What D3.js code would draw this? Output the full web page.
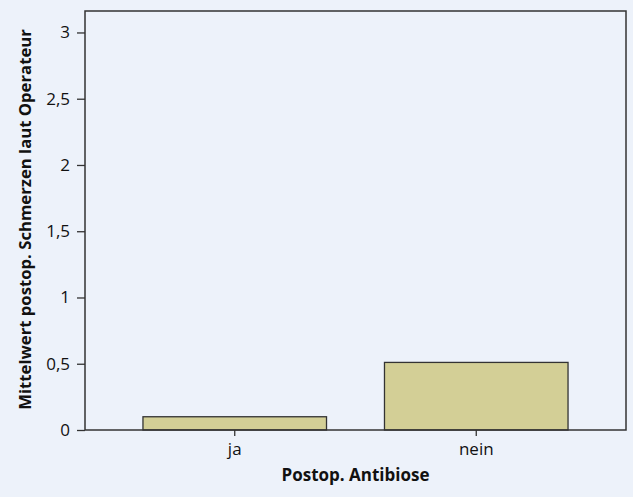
<!DOCTYPE html>
<html><head><meta charset="utf-8">
<script src="https://cdn.jsdelivr.net/npm/d3@7"></script>
<style>
html,body{margin:0;padding:0;background:#edf2fa;}
svg{display:block;}
text{font-family:"Open Sans",sans-serif;fill:#111;}
</style></head><body>
<script>
const categories = ["ja", "nein"];
const values = [0.10, 0.51];
const yTicks = [0, 0.5, 1, 1.5, 2, 2.5, 3];
const yTickLabels = ["0", "0,5", "1", "1,5", "2", "2,5", "3"];
const xTitle = "Postop. Antibiose";
const yTitle = "Mittelwert postop. Schmerzen laut Operateur";

const W = 633, H = 497;
const m = {left: 85, top: 11, right: 7, bottom: 67};
const svg = d3.select("body").append("svg").attr("width", W).attr("height", H);
svg.append("rect").attr("width", W).attr("height", H).attr("fill", "#edf2fa");

const x = d3.scaleBand().domain(categories).range([m.left, W - m.right]).paddingInner(0.24).paddingOuter(0.24);
const y = d3.scaleLinear().domain([0, 3.162]).range([H - m.bottom, m.top]);

svg.selectAll("rect.bar").data(categories).join("rect").attr("class", "bar")
  .attr("x", d => x(d)).attr("width", x.bandwidth())
  .attr("y", (d, i) => y(values[i])).attr("height", (d, i) => y(0) - y(values[i]))
  .attr("fill", "#d3cf96").attr("stroke", "#333").attr("stroke-width", 1.3);

// frame
svg.append("rect").attr("x", m.left).attr("y", m.top)
  .attr("width", W - m.right - m.left).attr("height", H - m.bottom - m.top)
  .attr("fill", "none").attr("stroke", "#333").attr("stroke-width", 1.5);

const yAxis = d3.axisLeft(y).tickValues(yTicks).tickFormat((d, i) => yTickLabels[i]).tickSize(8).tickPadding(7);
const gy = svg.append("g").attr("transform", `translate(${m.left},0)`).call(yAxis);
gy.select(".domain").remove();
gy.selectAll(".tick line").attr("stroke", "#333").attr("stroke-width", 1.3);
gy.selectAll(".tick text").style("font-size", "17px").attr("fill", "#111");

const xAxis = d3.axisBottom(x).tickSize(6).tickPadding(7);
const gx = svg.append("g").attr("transform", `translate(0,${H - m.bottom})`).call(xAxis);
gx.select(".domain").remove();
gx.selectAll(".tick line").attr("stroke", "#333").attr("stroke-width", 1.3);
gx.selectAll(".tick text").style("font-size", "17px").attr("fill", "#111");

svg.append("text").attr("x", (m.left + W - m.right) / 2).attr("y", 481)
  .attr("text-anchor", "middle").attr("font-weight", "bold").style("font-size", "17px").text(xTitle);
svg.append("text").attr("transform", `translate(31,${(m.top + H - m.bottom) / 2 - 1}) rotate(-90)`)
  .attr("text-anchor", "middle").attr("font-weight", "bold").style("font-size", "16.7px").text(yTitle);
</script>
</body></html>
